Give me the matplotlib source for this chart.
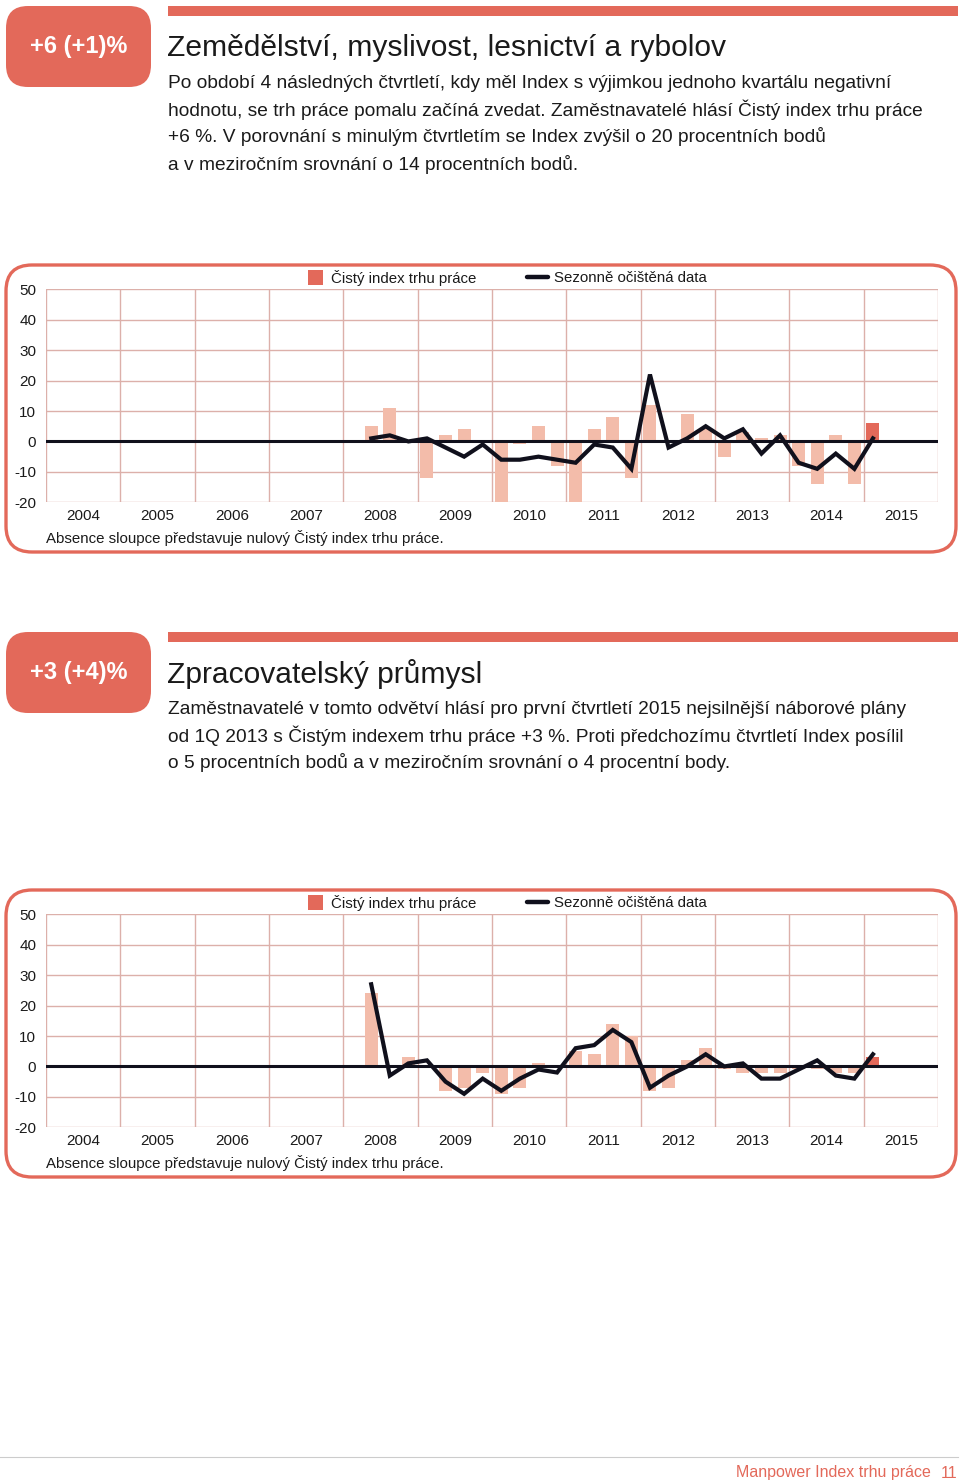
import matplotlib
matplotlib.use("Agg")
import matplotlib.pyplot as plt
from matplotlib.patches import FancyBboxPatch, Rectangle
import numpy as np

plt.rcParams['font.family'] = ['Liberation Sans', 'DejaVu Sans']

# ---------------- data ----------------
years = list(range(2004, 2016))
first_year = 2008
first_quarter = 2

sec1_badge = "+6 (+1)%"
sec1_title = "Zemědělství, myslivost, lesnictví a rybolov"
sec1_text = ["Po období 4 následných čtvrtletí, kdy měl Index s výjimkou jednoho kvartálu negativní",
             "hodnotu, se trh práce pomalu začíná zvedat. Zaměstnavatelé hlásí Čistý index trhu práce",
             "+6 %. V porovnání s minulým čtvrtletím se Index zvýšil o 20 procentních bodů",
             "a v meziročním srovnání o 14 procentních bodů."]
c1_index = [5, 11, 0, -12, 2, 4, 0, -20, -1, 5, -8, -20, 4, 8, -12,
            12, 0, 9, 4, -5, 3, 1, 2, -8, -14, 2, -14, 6]
c1_seasonal = [1, 2, 0, 1, -2, -5, -1, -6, -6, -5, -6, -7, -1, -2, -9,
               22, -2, 1, 5, 1, 4, -4, 2, -7, -9, -4, -9, 1]

sec2_badge = "+3 (+4)%"
sec2_title = "Zpracovatelský průmysl"
sec2_text = ["Zaměstnavatelé v tomto odvětví hlásí pro první čtvrtletí 2015 nejsilnější náborové plány",
             "od 1Q 2013 s Čistým indexem trhu práce +3 %. Proti předchozímu čtvrtletí Index posílil",
             "o 5 procentních bodů a v meziročním srovnání o 4 procentní body."]
c2_index = [24, 0, 3, 0, -8, -7, -2, -9, -7, 1, 0, 5, 4, 14, 10,
            -8, -7, 2, 6, -1, -2, -2, -2, -1, -1, -2, -2, 3]
c2_seasonal = [27, -3, 1, 2, -5, -9, -4, -8, -4, -1, -2, 6, 7, 12, 8,
               -7, -3, 0, 4, 0, 1, -4, -4, -1, 2, -3, -4, 4]

y_ticks = [50, 40, 30, 20, 10, 0, -10, -20]
legend_bar = "Čistý index trhu práce"
legend_line = "Sezonně očištěná data"
note = "Absence sloupce představuje nulový Čistý index trhu práce."
footer = "Manpower Index trhu práce"
page = "11"

# ---------------- style ----------------
CORAL = "#e3695a"
LIGHT = "#f3bcaa"
GRID = "#dcb0aa"
LINE = "#10101c"
TEXT = "#1a1a1a"

W, H = 960, 1484
fig = plt.figure(figsize=(W / 100, H / 100), dpi=100)
bg = fig.add_axes([0, 0, 1, 1])
bg.set_xlim(0, W)
bg.set_ylim(H, 0)
bg.axis('off')


def section(top, badge, title, text_lines):
    bg.add_patch(FancyBboxPatch((6, top), 145, 81,
                                boxstyle="round,pad=0,rounding_size=22",
                                fc=CORAL, ec='none'))
    bg.text(78.5, top + 41, badge, color='white', fontsize=17, fontweight='bold',
            ha='center', va='center')
    bg.add_patch(Rectangle((168, top), 790, 10, fc=CORAL, ec='none'))
    bg.text(167, top + 42, title, fontsize=21.6, color=TEXT, ha='left', va='center')
    for i, ln in enumerate(text_lines):
        bg.text(168, top + 77 + 27 * i, ln, fontsize=13.75, color=TEXT,
                ha='left', va='center')


def chart(top, idx, seas):
    # panel
    bg.add_patch(FancyBboxPatch((6, top), 950, 287,
                                boxstyle="round,pad=0,rounding_size=26",
                                fc='white', ec=CORAL, lw=2.4))
    # legend
    bg.add_patch(Rectangle((308, top + 5), 15, 15, fc=CORAL, ec='none'))
    bg.text(331, top + 13, legend_bar, fontsize=10.8, color=TEXT, ha='left', va='center')
    bg.plot([527, 548], [top + 12, top + 12], color=LINE, lw=3.2, solid_capstyle='round')
    bg.text(554, top + 13, legend_line, fontsize=10.8, color=TEXT, ha='left', va='center')
    bg.text(46, top + 273, note, fontsize=10.8, color=TEXT, ha='left', va='center')

    y0 = top + 24.3
    y1 = top + 237.3
    ax = fig.add_axes([46 / W, 1 - y1 / H, (938 - 46) / W, (y1 - y0) / H])
    ax.set_xlim(0, 4 * len(years))
    ax.set_ylim(-20, 50)
    for s in ax.spines.values():
        s.set_visible(False)
    ax.set_facecolor('none')
    ax.set_xticks(np.arange(0, 4 * len(years) + 1, 4))
    ax.set_xticklabels([])
    ax.set_xticks(np.arange(2, 4 * len(years), 4), minor=True)
    ax.set_xticklabels([str(y) for y in years], minor=True, fontsize=11, color=TEXT)
    ax.tick_params(axis='x', which='both', length=0, pad=5)
    ax.set_yticks(y_ticks)
    ax.set_yticklabels([str(v) for v in y_ticks], fontsize=11, color=TEXT)
    ax.tick_params(axis='y', length=0, pad=7)
    ax.grid(True, which='major', color=GRID, lw=1.0)
    ax.set_axisbelow(True)

    start = (first_year - years[0]) * 4 + (first_quarter - 1)
    x = np.arange(start, start + len(idx)) + 0.5
    colors = [LIGHT] * (len(idx) - 1) + [CORAL]
    ax.bar(x, idx, width=0.7, color=colors, zorder=2)
    ax.axhline(0, color=LINE, lw=2.2, zorder=3)
    ax.plot(x, seas, color=LINE, lw=3.0, zorder=4, solid_joinstyle='miter')
    return ax


section(6, sec1_badge, sec1_title, sec1_text)
chart(265, c1_index, c1_seasonal)
section(632, sec2_badge, sec2_title, sec2_text)
chart(890, c2_index, c2_seasonal)

# footer
bg.plot([0, 958], [1457, 1457], color="#cccccc", lw=0.8)
bg.text(931, 1473, footer, fontsize=11.5, color=CORAL, ha='right', va='center')
bg.text(957, 1473, page, fontsize=11.5, color=CORAL, ha='right', va='center')

fig.savefig("out.png", dpi=100)
